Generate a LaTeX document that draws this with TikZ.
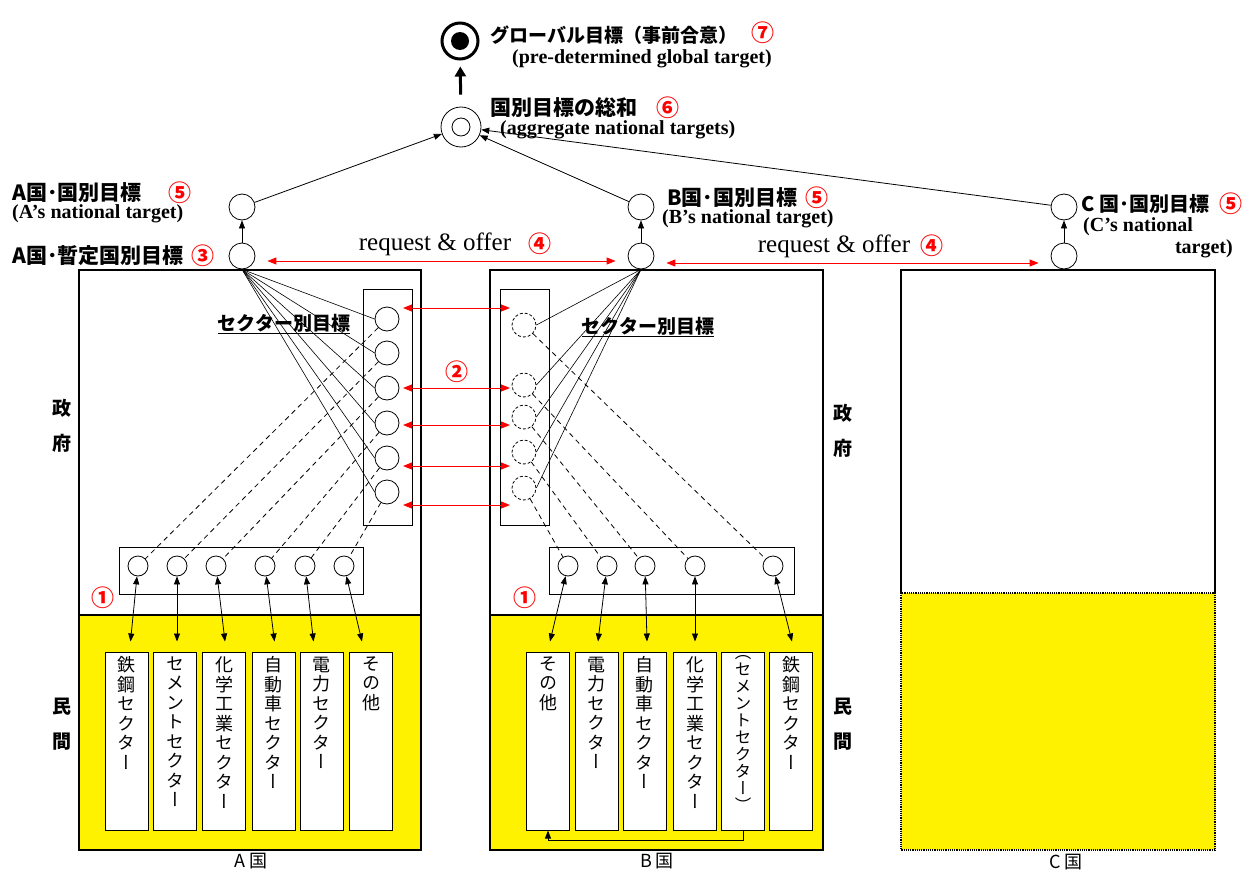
\documentclass[tikz,border=0pt]{standalone}
\usepackage{fontspec}
\usetikzlibrary{arrows.meta}
\setmainfont{Liberation Serif}
\newfontfamily\jp{Noto Sans CJK JP}
\newfontfamily\jpv[RawFeature=+vert]{Noto Sans CJK JP}

\begin{document}
\begin{tikzpicture}[x=1pt,y=-1pt,
    >={Triangle[length=8pt,width=6pt]},
    every node/.style={inner sep=0pt},
    tgt/.style={circle,draw,line width=0.8pt,minimum size=26pt},
    sect/.style={circle,draw,line width=0.8pt,minimum size=24pt},
    sml/.style={circle,draw,line width=0.8pt,minimum size=20pt},
    bar/.style={draw,fill=white,line width=1pt,minimum width=43pt,minimum height=178pt},
    bartxt/.style={font=\jpv\fontsize{18}{19.5}\selectfont,align=center},
    jlab/.style={font=\jp\bfseries\fontsize{21}{23}\selectfont,anchor=west},
    elab/.style={font=\bfseries\fontsize{20}{22}\selectfont,anchor=west},
    num/.style={font=\jp\bfseries\fontsize{23}{25}\selectfont,text=red},
    redarr/.style={{Triangle[length=9pt,width=7pt]}-{Triangle[length=9pt,width=7pt]},red,line width=1pt},
    side/.style={font=\jp\bfseries\fontsize{19}{35}\selectfont,align=center},
    fan/.style={line width=0.6pt},
    dashline/.style={line width=0.8pt,dash pattern=on 5pt off 4pt}
]
\useasboundingbox (0,0) rectangle (1245,870);

% Country boxes
\fill[yellow] (79,615) rectangle (421,850);
\draw[line width=1.2pt] (79,270) rectangle (421,850);
\draw[line width=1.2pt] (79,615) -- (421,615);
\fill[yellow] (490,615) rectangle (823,850);
\draw[line width=1.2pt] (490,270) rectangle (823,850);
\draw[line width=1.2pt] (490,615) -- (823,615);
\draw[line width=1.2pt] (901,593) -- (901,270) -- (1215,270) -- (1215,593);
\filldraw[fill=yellow,line width=1.2pt,densely dotted] (901,593) rectangle (1215,850);

\node[font=\jp\fontsize{18}{20}\selectfont] at (251,861) {A 国};
\node[font=\jp\fontsize{18}{20}\selectfont] at (657,861) {B 国};
\node[font=\jp\fontsize{18}{20}\selectfont] at (1066,862) {C 国};

% Global target
\node (glob) [circle,draw,line width=3pt,minimum size=36pt] at (460,41) {};
\fill (glob.center) circle (9pt);
\node[jlab,font=\jp\bfseries\fontsize{19}{21}\selectfont] at (490,35) {グローバル目標（事前合意）};
\node[num] at (763,33) {⑦};
\node[elab] at (512,59) {(pre-determined global target)};

% Aggregate
\node (agg) [circle,draw,line width=0.8pt,minimum size=40pt] at (461,127) {};
\draw[line width=0.8pt] (agg.center) circle (9pt);
\draw[-{Triangle[length=10pt,width=11pt]},line width=3pt,shorten <=12pt,shorten >=6pt] (agg) -- (glob);
\node[jlab] at (490,108) {国別目標の総和};
\node[num] at (668,108) {⑥};
\node[elab] at (500,130) {(aggregate national targets)};

% National targets
\node (Atgt) [tgt] at (242,207) {};
\node (Aprov) [tgt] at (242,256) {};
\node (Btgt) [tgt] at (641,207) {};
\node (Bprov) [tgt] at (641,256) {};
\node (Ctgt) [tgt] at (1064,207) {};
\node (Cprov) [tgt] at (1064,256) {};
\draw[->,line width=0.8pt] (Aprov) -- (Atgt);
\draw[->,line width=0.8pt] (Bprov) -- (Btgt);
\draw[->,line width=0.8pt] (Cprov) -- (Ctgt);
\draw[->,line width=0.8pt] (Atgt) -- (agg);
\draw[->,line width=0.8pt] (Btgt) -- (agg);
\draw[->,line width=0.8pt] (Ctgt) -- (agg);

\node[jlab] at (12,193) {A国･国別目標};
\node[num] at (180,193) {⑤};
\node[elab] at (12,214) {(A’s national target)};
\node[jlab] at (12,256) {A国･暫定国別目標};
\node[num] at (203,256) {③};
\node[jlab] at (667,198) {B国･国別目標};
\node[num] at (817,198) {⑤};
\node[elab] at (662,219) {(B’s national target)};
\node[jlab,font=\jp\bfseries\fontsize{20}{22}\selectfont] at (1081,204) {C 国･国別目標};
\node[num] at (1231,204) {⑤};
\node[elab] at (1083,227) {(C’s national};
\node[elab,anchor=east] at (1233,249) {target)};

% request & offer
\draw[redarr,shorten <=12pt,shorten >=12pt] ([yshift=-5pt]Aprov.east) -- ([yshift=-5pt]Bprov.west);
\draw[redarr,shorten <=12pt,shorten >=12pt] ([yshift=-7pt]Bprov.east) -- ([yshift=-7pt]Cprov.west);
\node[font=\fontsize{25}{27}\selectfont] at (435,244) {request \& offer};
\node[num] at (540,244) {④};
\node[font=\fontsize{25}{27}\selectfont] at (834,246) {request \& offer};
\node[num] at (932,246) {④};

% Sector targets
\draw[line width=1pt] (363,289) rectangle (412,525);
\draw[line width=1pt] (500,289) rectangle (549,525);
\node (sA1) [sect] at (387,319) {};
\node (sA2) [sect] at (387,353) {};
\node (sA3) [sect] at (387,388) {};
\node (sA4) [sect] at (387,423) {};
\node (sA5) [sect] at (387,458) {};
\node (sA6) [sect] at (387,492) {};
\node (sB1) [sect,densely dashed] at (524,325) {};
\node (sB2) [sect,densely dashed] at (524,385) {};
\node (sB3) [sect,densely dashed] at (524,417) {};
\node (sB4) [sect,densely dashed] at (524,452) {};
\node (sB5) [sect,densely dashed] at (524,488) {};
\node[font=\jp\bfseries\fontsize{19}{21}\selectfont] (secA) at (284,324) {\underline{セクター別目標}};
\node[font=\jp\bfseries\fontsize{19}{21}\selectfont] (secB) at (648,327) {\underline{セクター別目標}};
\foreach \y in {308,388,425,466,505}
    \draw[redarr] (403,\y) -- (510,\y);
\node[num] at (457,372) {②};

% Bottom circles
\draw[line width=1pt] (119,547) rectangle (363,594);
\draw[line width=1pt] (549,547) rectangle (794,594);
\foreach \i/\x in {1/138,2/177,3/216,4/265,5/305,6/344}
    \node (bA\i) [sml] at (\x,566) {};
\foreach \i/\x in {1/568,2/607,3/645,4/695,5/773}
    \node (bB\i) [sml] at (\x,566) {};
\node[num] at (103,598) {①};
\node[num] at (525,598) {①};

% Fans
\foreach \i in {1,...,6} {
    \draw[fan] (Aprov.south) -- (sA\i.west);
    \draw[dashline] (sA\i) -- (bA\i);
}
\foreach \i/\j in {1/5,2/4,3/3,4/2,5/1} {
    \draw[fan] (Bprov.south) -- (sB\i.east);
    \draw[dashline] (sB\i) -- (bB\j);
}

% Sector bars
\node (barA1) [bar] at (126.5,741) {};
\node (barA2) [bar] at (175,741) {};
\node (barA3) [bar] at (224,741) {};
\node (barA4) [bar] at (273.5,741) {};
\node (barA5) [bar] at (321.5,741) {};
\node (barA6) [bar] at (371,741) {};
\node[bartxt,below=5pt] at (barA1.north) {鉄\\鋼\\セ\\ク\\タ\\ー};
\node[bartxt,below=5pt] at (barA2.north) {セ\\メ\\ン\\ト\\セ\\ク\\タ\\ー};
\node[bartxt,below=5pt] at (barA3.north) {化\\学\\工\\業\\セ\\ク\\タ\\ー};
\node[bartxt,below=5pt] at (barA4.north) {自\\動\\車\\セ\\ク\\タ\\ー};
\node[bartxt,below=5pt] at (barA5.north) {電\\力\\セ\\ク\\タ\\ー};
\node[bartxt,below=5pt] at (barA6.north) {そ\\の\\他};

\node (barB1) [bar] at (548,741) {};
\node (barB2) [bar] at (596.5,741) {};
\node (barB3) [bar] at (644.5,741) {};
\node (barB4) [bar] at (695,741) {};
\node (barB5) [bar] at (743,741) {};
\node (barB6) [bar] at (791,741) {};
\node[bartxt,below=5pt] at (barB1.north) {そ\\の\\他};
\node[bartxt,below=5pt] at (barB2.north) {電\\力\\セ\\ク\\タ\\ー};
\node[bartxt,below=5pt] at (barB3.north) {自\\動\\車\\セ\\ク\\タ\\ー};
\node[bartxt,below=5pt] at (barB4.north) {化\\学\\工\\業\\セ\\ク\\タ\\ー};
\node[bartxt,below=4pt,font=\jpv\fontsize{16.5}{17}\selectfont] at (barB5.north) {（\\セ\\メ\\ン\\ト\\セ\\ク\\タ\\ー\\）};
\node[bartxt,below=5pt] at (barB6.north) {鉄\\鋼\\セ\\ク\\タ\\ー};
\draw[->,line width=0.8pt] (barB5.south) -- ++(0,10) -| (barB1.south);

% Circles to bars
\foreach \i/\dx in {1/4,2/2,3/1,4/1,5/-8,6/-9}
    \draw[<->,line width=0.8pt] (bA\i) -- ([xshift=\dx pt,yshift=10pt]barA\i.north);
\foreach \i/\j/\dx in {1/1/2,2/2/1.5,3/3/2.5,4/4/0,5/6/1}
    \draw[<->,line width=0.8pt] (bB\i) -- ([xshift=\dx pt,yshift=10pt]barB\j.north);

% Side labels
\node[side] at (62,426) {政\\府};
\node[side] at (62,724) {民\\間};
\node[side] at (843,431) {政\\府};
\node[side] at (843,724) {民\\間};

\end{tikzpicture}
\end{document}
